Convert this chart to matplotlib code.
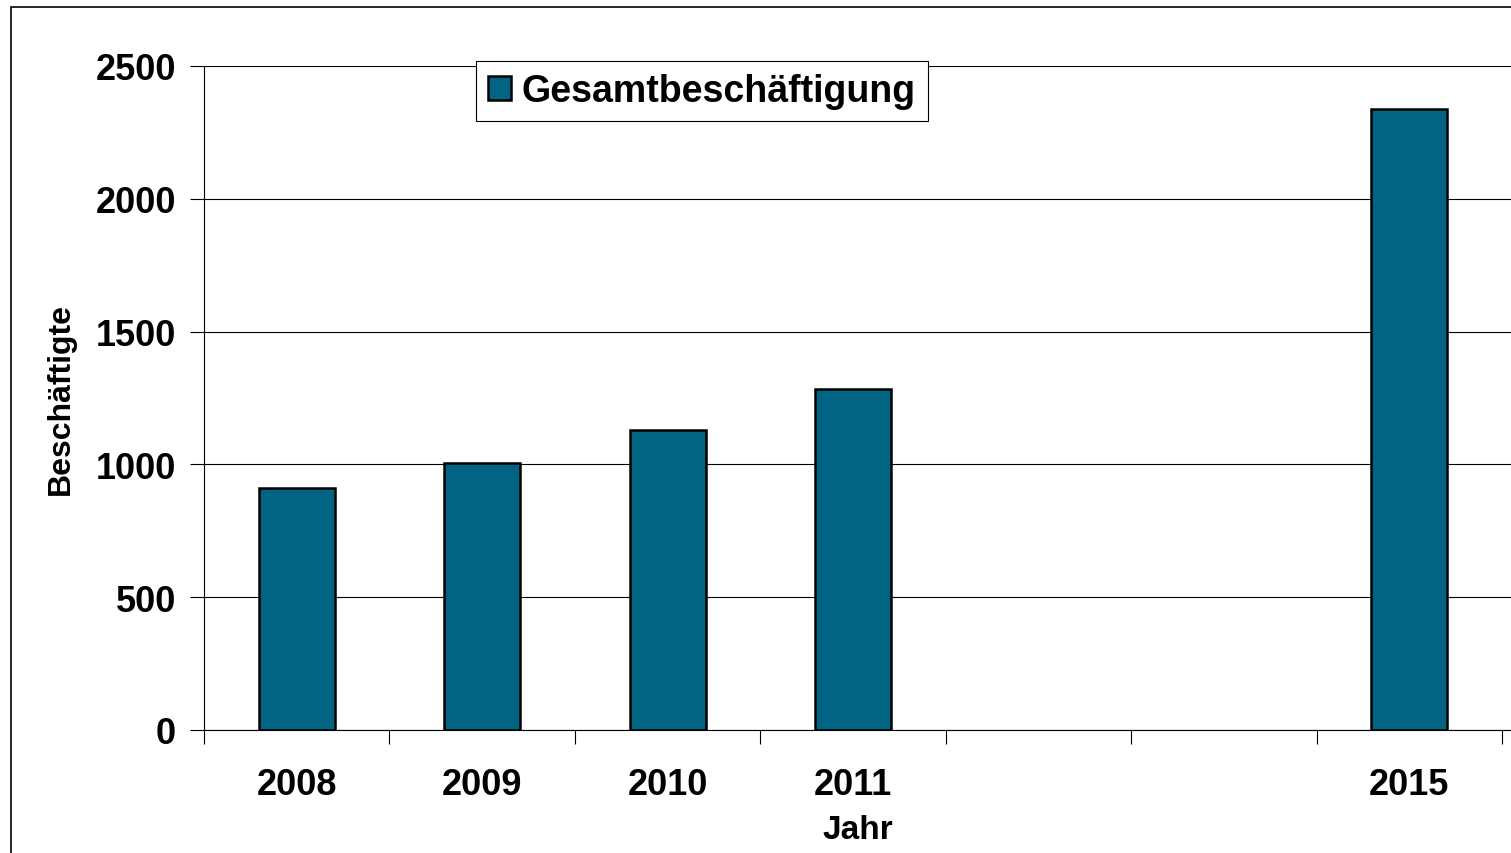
import matplotlib.pyplot as plt
from matplotlib.patches import Rectangle

# data
years = ['2008', '2009', '2010', '2011', '', '', '2015']
employees = [911, 1005, 1130, 1284, None, None, 2338]

bar_color = '#006482'

plt.rcParams['font.family'] = ['Liberation Sans', 'DejaVu Sans']
plt.rcParams['font.weight'] = 'bold'

W, H = 1511, 854
cat_px = (1502 - 204) / len(years)
fig = plt.figure(figsize=(W / 100, H / 100), dpi=100)
ax = fig.add_axes([204 / W, 1 - 731 / H, (1512 - 204) / W, (731 - 67) / H])

# outer chart frame (runs off the right and bottom edge)
fig.patches.append(Rectangle((11 / W, -0.1), 1.2, 1 - 8 / H + 0.1,
                             transform=fig.transFigure, fill=False,
                             edgecolor='black', linewidth=1.2))

xs = [i for i, v in enumerate(employees) if v is not None]
vals = [v for v in employees if v is not None]
ax.bar(xs, vals, width=0.41, color=bar_color, edgecolor='black', linewidth=1.8,
       label='Gesamtbeschäftigung', zorder=3)

ax.set_xlim(-0.5, len(years) - 0.5 + 10 / cat_px)
ax.set_ylim(0, 2500)
ax.set_yticks(range(0, 2501, 500))
ax.yaxis.grid(True, color='black', linewidth=0.8)

ax.set_xticks(range(len(years)))
ax.set_xticklabels(years, fontsize=26, fontweight='bold')
ax.tick_params(axis='x', length=0, pad=27)
ax.set_xticks([i - 0.5 for i in range(len(years) + 1)], minor=True)
ax.tick_params(axis='x', which='minor', length=10, width=0.8, direction='out')
ax.tick_params(axis='y', labelsize=26, length=10, width=0.8, pad=10)
for lab in ax.get_yticklabels():
    lab.set_fontweight('bold')

for side in ['top', 'right']:
    ax.spines[side].set_visible(False)
ax.spines['left'].set_linewidth(0.8)
ax.spines['bottom'].set_linewidth(0.8)

ax.set_xlabel('Jahr', fontsize=24, fontweight='bold', labelpad=8)
ax.set_ylabel('Beschäftigte', fontsize=23, fontweight='bold', labelpad=14)

leg = ax.legend(loc='upper left', bbox_to_anchor=(0.2096 * 1298 / 1308, 1.0075),
                fontsize=27, fancybox=False, framealpha=1, edgecolor='black',
                handlelength=0.6, handleheight=0.6, handletextpad=0.3,
                borderpad=0.32, borderaxespad=0)
leg.get_frame().set_linewidth(0.8)
for t in leg.get_texts():
    t.set_fontweight('bold')

fig.savefig('out.png', dpi=100)
